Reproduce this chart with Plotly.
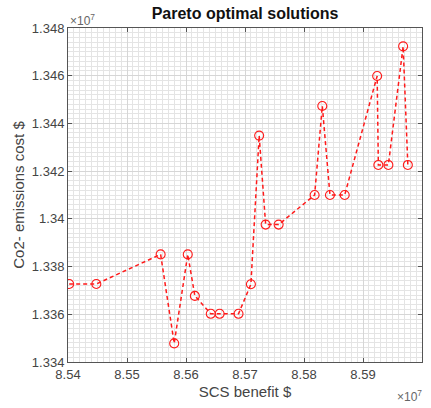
import plotly.graph_objects as go

# SCS benefit (x 1e7) and CO2 emissions cost (x 1e7)
scs_benefit = [8.5402, 8.5448, 8.5557, 8.5580, 8.5603, 8.5615, 8.5642, 8.5657,
               8.5689, 8.5710, 8.5724, 8.5735, 8.5757, 8.5818, 8.5831, 8.5844,
               8.5869, 8.5924, 8.5926, 8.5943, 8.5968, 8.5976]
co2_cost = [1.33727, 1.33727, 1.33851, 1.33478, 1.33851, 1.33677, 1.33602, 1.33602,
            1.33602, 1.33726, 1.34349, 1.33976, 1.33976, 1.34100, 1.34473, 1.34100,
            1.34100, 1.34599, 1.34226, 1.34226, 1.34723, 1.34226]

x_tickvals = [8.54, 8.55, 8.56, 8.57, 8.58, 8.59, 8.60]
x_ticktext = ["8.54", "8.55", "8.56", "8.57", "8.58", "8.59", "8.6"]
y_tickvals = [1.334, 1.336, 1.338, 1.340, 1.342, 1.344, 1.346, 1.348]
y_ticktext = ["1.334", "1.336", "1.338", "1.34", "1.342", "1.344", "1.346", "1.348"]

red = "#ff1a1a"
axis_col = "#555555"
font = "Liberation Sans, Arial, sans-serif"

fig = go.Figure()
fig.add_trace(go.Scatter(
    x=scs_benefit, y=co2_cost, mode="lines+markers",
    line=dict(color=red, width=1.5, dash="4px,3px"),
    marker=dict(symbol="circle-open", size=9, color=red, line=dict(width=1.1, color=red)),
    showlegend=False,
))

common = dict(
    showline=True, linecolor=axis_col, linewidth=1, mirror="allticks",
    ticks="inside", ticklen=4, tickcolor=axis_col,
    showgrid=True, gridcolor="#d6d6d6", gridwidth=1,
    zeroline=False,
    tickfont=dict(family=font, size=13, color="#444444"),
)

fig.update_xaxes(
    range=[8.54, 8.60], tickvals=x_tickvals, ticktext=x_ticktext,
    minor=dict(dtick=0.001, showgrid=True, gridcolor="#e4e4e4", gridwidth=1, ticks=""),
    title=dict(text="SCS benefit $", font=dict(family=font, size=15, color="#444444"), standoff=5),
    **common,
)
fig.update_yaxes(
    range=[1.334, 1.348], tickvals=y_tickvals, ticktext=y_ticktext,
    minor=dict(dtick=0.0002, showgrid=True, gridcolor="#e4e4e4", gridwidth=1, ticks=""),
    title=dict(text="Co2- emissions cost $", font=dict(family=font, size=15, color="#444444"), standoff=3),
    **common,
)

fig.update_layout(
    width=431, height=408,
    margin=dict(l=68, r=9, t=28, b=46),
    paper_bgcolor="white", plot_bgcolor="white",
    title=dict(text="<b>Pareto optimal solutions</b>", x=0.5, xanchor="center", xref="paper",
               y=1, yref="container", yanchor="top", pad=dict(t=8),
               font=dict(family=font, size=16, color="#111111")),
    annotations=[
        dict(text="×10<sup>7</sup>", x=0, y=1, xref="paper", yref="paper", xanchor="left",
             yanchor="bottom", showarrow=False, font=dict(family=font, size=12, color="#666666"),
             yshift=-2),
        dict(text="×10<sup>7</sup>", x=1, y=0, xref="paper", yref="paper", xanchor="right",
             yanchor="top", showarrow=False, font=dict(family=font, size=12, color="#666666"),
             yshift=-24, xshift=2),
    ],
)

fig.write_html("out.html")
